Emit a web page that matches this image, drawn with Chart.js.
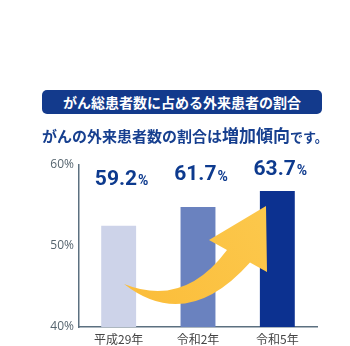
<!DOCTYPE html>
<html>
<head>
<meta charset="utf-8">
<script src="https://cdn.jsdelivr.net/npm/chart.js@4"></script>
<style>
    html, body { margin: 0; padding: 0; background: #fff; }
    #wrap { position: relative; width: 350px; height: 346px; overflow: hidden; }
    #chart { position: absolute; left: 0; top: 0; }
    .banner {
        position: absolute; left: 42px; top: 90px; width: 280px; height: 24px;
        background: #133a8c; border-radius: 5px; color: #fff;
        font: bold 14px "Noto Sans CJK JP", sans-serif; line-height: 24px; text-align: center;
    }
    .sub {
        position: absolute; left: 42px; top: 124px; white-space: nowrap;
        color: #163f8f; font: bold 15px "Noto Sans CJK JP", sans-serif; line-height: 22px;
    }
    .sub .big { font-size: 17px; }
    .sub .small { font-size: 13px; }
</style>
</head>
<body>
<div id="wrap">
    <canvas id="chart" width="350" height="346"></canvas>
    <div class="banner">がん総患者数に占める外来患者の割合</div>
    <div class="sub">がんの外来患者数の割合は<span class="big">増加傾向</span><span class="small">です。</span></div>
</div>
<script>
// values as drawn on the axis, and the printed percentages above the bars
var categories = ['平成29年', '令和2年', '令和5年'];
var barValues = [52.5, 54.8, 56.8];
var valueLabels = ['59.2', '61.7', '63.7'];
var yTicks = [40, 50, 60];

var barColors = ['#cdd3e9', '#6a82bf', '#0c3190'];
var navy = '#0d3a8e';

// printed values above each bar
var valueLabelPlugin = {
    id: 'valueLabels',
    afterDatasetsDraw: function(chart) {
        var ctx = chart.ctx;
        var meta = chart.getDatasetMeta(0);
        var offsets = [46, 32, 21];
        ctx.save();
        ctx.fillStyle = navy;
        ctx.textBaseline = 'middle';
        meta.data.forEach(function(bar, i) {
            var num = valueLabels[i];
            ctx.font = 'bold 21px Roboto, sans-serif';
            var w1 = ctx.measureText(num).width;
            ctx.font = 'bold 14px Roboto, sans-serif';
            var w2 = ctx.measureText('%').width;
            var x = bar.x + 3 - (w1 + w2 + 1) / 2;
            var y = bar.y - offsets[i];
            ctx.textAlign = 'left';
            ctx.font = 'bold 21px Roboto, sans-serif';
            ctx.fillText(num, x, y);
            ctx.font = 'bold 14px Roboto, sans-serif';
            ctx.fillText('%', x + w1 + 1, y + 2);
        });
        ctx.restore();
    }
};

// decorative curved arrow over the bars
var arrowPlugin = {
    id: 'arrow',
    afterDatasetsDraw: function(chart) {
        var a = chart.chartArea;
        var ctx = chart.ctx;
        var p = function(x, y) {
            return [a.left + (x - 79) * (a.right - a.left) / 238, a.top + (y - 165) * (a.bottom - a.top) / 162];
        };
        var tail = p(124, 284), c1 = p(184, 308), u = p(227, 250), bl = p(209, 240);
        var tip = p(266, 206), br = p(267, 272), l = p(250, 262.5), c2 = p(187, 333);
        ctx.save();
        var g = ctx.createLinearGradient(tail[0], tail[1], tip[0], tip[1]);
        g.addColorStop(0, '#fbbd3a');
        g.addColorStop(1, '#fcc84c');
        ctx.fillStyle = g;
        ctx.beginPath();
        ctx.moveTo(tail[0], tail[1]);
        ctx.quadraticCurveTo(c1[0], c1[1], u[0], u[1]);
        ctx.lineTo(bl[0], bl[1]);
        ctx.lineTo(tip[0], tip[1]);
        ctx.lineTo(br[0], br[1]);
        ctx.lineTo(l[0], l[1]);
        ctx.quadraticCurveTo(c2[0], c2[1], tail[0], tail[1]);
        ctx.closePath();
        ctx.fill();
        ctx.restore();
    }
};

new Chart(document.getElementById('chart'), {
    type: 'bar',
    data: {
        labels: categories,
        datasets: [{
            data: barValues,
            backgroundColor: barColors,
            borderWidth: 0,
            barPercentage: 0.44,
            categoryPercentage: 1
        }]
    },
    options: {
        responsive: false,
        animation: false,
        layout: { padding: { left: 0, right: 33, top: 165, bottom: 0 } },
        plugins: { legend: { display: false }, tooltip: { enabled: false } },
        scales: {
            x: {
                grid: { display: false, drawTicks: false },
                border: { display: true, color: '#5c7080', width: 1.5 },
                ticks: { color: '#444', font: { size: 12, family: '"Noto Sans CJK JP", sans-serif' }, padding: 5 },
                afterFit: function(s) { s.height = 19; }
            },
            y: {
                min: 40,
                max: 60,
                afterBuildTicks: function(s) { s.ticks = yTicks.map(function(v) { return { value: v }; }); },
                grid: { display: false, drawTicks: false },
                border: { display: true, color: '#5c7080', width: 1.5 },
                ticks: {
                    color: '#56656f',
                    font: { size: 12, family: '"Open Sans", sans-serif' },
                    padding: 5,
                    callback: function(v) { return v + '%'; }
                },
                afterFit: function(s) { s.width = 79; }
            }
        }
    },
    plugins: [valueLabelPlugin, arrowPlugin]
});
</script>
</body>
</html>
